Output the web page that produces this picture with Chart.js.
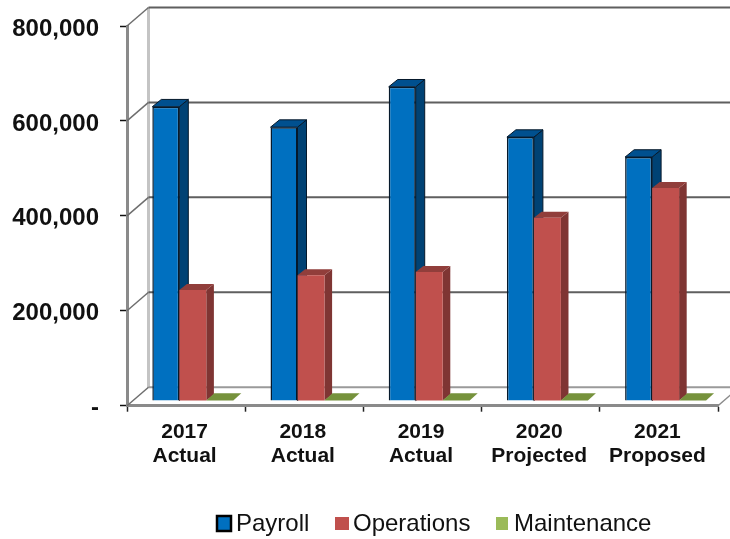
<!DOCTYPE html>
<html><head><meta charset="utf-8">
<style>html,body{margin:0;padding:0;background:#fff}canvas{display:block;filter:blur(0.4px)}</style>
<script src="https://cdn.jsdelivr.net/npm/chart.js@4"></script></head>
<body><canvas id="c" width="730" height="539"></canvas>
<script>
const categories = [["2017","Actual"],["2018","Actual"],["2019","Actual"],["2020","Projected"],["2021","Proposed"]];
const payroll = [620000,577000,662000,556000,514000];
const operations = [234000,265000,272000,386000,449000];
const maintenance = [1000,1000,1000,1000,1000];
const seriesNames = ["Payroll","Operations","Maintenance"];
const yTicks = [0,200000,400000,600000,800000];
const FONT = '"Liberation Sans", Arial, sans-serif';
const front = ["#0070C0","#C0504D","#9BBB59"];
const side = ["#004274","#7F3533","#6E8A3C"];
const top3 = ["#00508F","#913E3B","#76923C"];
const edge = ["#06192B","#C0504D","#9BBB59"];
// 3D projection of the box
const wall = {dx:21.5, dy:-18.5};
const barPlane = {dx:6.7, dy:-4.7};
const depth = [{dx:9,dy:-7.3},{dx:7.6,dy:-6},{dx:8,dy:-7.3}];

const scene = {
  id:'scene',
  beforeDatasetsDraw(chart){
    const {ctx,chartArea:a,scales:{y}} = chart;
    ctx.save();
    ctx.strokeStyle='#C4C4C4';ctx.lineWidth=3;
    ctx.beginPath();ctx.moveTo(a.left+wall.dx,y.getPixelForValue(800000)+wall.dy);
    ctx.lineTo(a.left+wall.dx,y.getPixelForValue(0)+wall.dy);ctx.stroke();
    yTicks.forEach(v=>{
      const py=y.getPixelForValue(v);
      ctx.strokeStyle=v===0?'#9A9A9A':'#5F5F5F';ctx.lineWidth=2;
      ctx.beginPath();ctx.moveTo(a.left+wall.dx,py+wall.dy);ctx.lineTo(730,py+wall.dy);ctx.stroke();
      ctx.strokeStyle='#6E6E6E';ctx.lineWidth=1.5;
      ctx.beginPath();ctx.moveTo(a.left,py);ctx.lineTo(a.left+wall.dx,py+wall.dy);ctx.stroke();
    });
    const b=y.getPixelForValue(0);
    ctx.strokeStyle='#8A8A8A';ctx.lineWidth=1.5;
    ctx.beginPath();ctx.moveTo(a.right,b);ctx.lineTo(a.right+wall.dx,b+wall.dy);ctx.stroke();
    ctx.restore();
    ctx.save();
    ctx.translate(barPlane.dx,barPlane.dy);
    for(let d=0;d<3;d++){
      const dp=depth[d];
      chart.getDatasetMeta(d).data.forEach(el=>{
        const l=el.x-el.width/2,r=el.x+el.width/2,t=el.y,bs=el.base;
        ctx.strokeStyle=edge[0];ctx.lineWidth=1;
        if(d<2){
          ctx.fillStyle=side[d];
          ctx.beginPath();ctx.moveTo(r,t);ctx.lineTo(r+dp.dx,t+dp.dy);
          ctx.lineTo(r+dp.dx,bs+dp.dy);ctx.lineTo(r,bs);ctx.closePath();ctx.fill();
          if(d===0)ctx.stroke();
        }
        ctx.fillStyle=top3[d];
        ctx.beginPath();ctx.moveTo(l,t);ctx.lineTo(l+dp.dx,t+dp.dy);
        ctx.lineTo(r+dp.dx,t+dp.dy);ctx.lineTo(r,t);ctx.closePath();ctx.fill();
        if(d===0)ctx.stroke();
      });
    }
  },
  afterDatasetsDraw(chart){
    chart.ctx.restore();
  },
  afterDraw(chart){
    const {ctx}=chart;
    ctx.save();
    ctx.textBaseline='alphabetic';ctx.textAlign='left';
    ctx.font='24px '+FONT;
    const boxes=[[216,515,16,17,236],[335,517,14,13,353],[496,517,12,13,514]];
    seriesNames.forEach((n,i)=>{
      const [x,y,w,h,tx]=boxes[i];
      ctx.fillStyle=front[i];ctx.fillRect(x,y,w,h);
      if(i===0){ctx.strokeStyle='#000';ctx.lineWidth=2.5;ctx.strokeRect(x+1,y+1,w-2,h-2);}
      ctx.fillStyle='#111';ctx.fillText(n,tx,531);
    });
    ctx.restore();
  }
};

new Chart(document.getElementById('c'),{
  type:'bar',
  data:{labels:categories,datasets:[
    {label:seriesNames[0],data:payroll,backgroundColor:front[0],borderColor:edge[0],borderWidth:1.5,clip:false},
    {label:seriesNames[1],data:operations,backgroundColor:front[1],borderColor:edge[1],borderWidth:0,clip:false},
    {label:seriesNames[2],data:maintenance,backgroundColor:front[2],borderColor:edge[2],borderWidth:0,clip:false}
  ]},
  options:{
    responsive:false,animation:false,
    layout:{padding:{top:26,right:12,left:0,bottom:0}},
    plugins:{legend:{display:false},tooltip:{enabled:false}},
    datasets:{bar:{categoryPercentage:0.685,barPercentage:1}},
    scales:{
      x:{
        grid:{drawOnChartArea:false,drawTicks:true,tickLength:6,tickColor:'#222',tickWidth:1.5,offset:true},
        border:{color:'#8A8A8A',width:3},
        ticks:{color:'#111',font:{family:FONT,size:21,weight:'bold',lineHeight:1.14},padding:9,labelOffset:-1.5,maxRotation:0,autoSkip:false},
        afterFit(s){s.height=133.3;s.paddingLeft=0;s.paddingRight=0;}
      },
      y:{
        min:0,max:800000,
        afterBuildTicks(s){s.ticks=yTicks.map(v=>({value:v}));},
        grid:{drawOnChartArea:false,drawTicks:true,tickLength:7,tickColor:'#111',tickWidth:1.5},
        border:{color:'#8A8A8A',width:3},
        ticks:{color:'#111',font:{family:FONT,size:24,weight:'bold'},padding:21,labelOffset:3,
          callback:v=>v===0?'-':v.toLocaleString('en-US')},
        afterFit(s){s.width=127;s.paddingTop=0;s.paddingBottom=0;}
      }
    }
  },
  plugins:[scene]
});
</script></body></html>
